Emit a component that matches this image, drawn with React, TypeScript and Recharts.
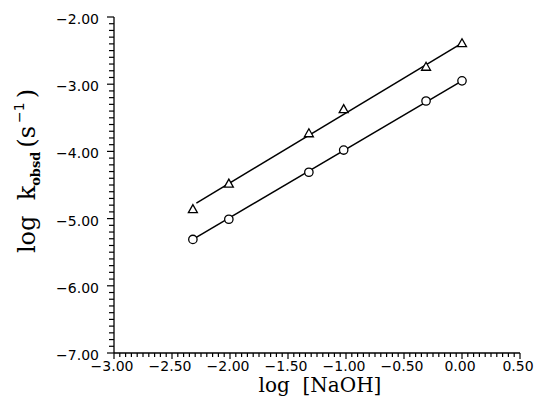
import { ScatterChart, Scatter, XAxis, YAxis } from 'recharts';

// log [NaOH] values shared by both series
const logNaOH = [-2.32, -2.01, -1.32, -1.02, -0.31, 0.0];
const triangleLogK = [-4.86, -4.48, -3.73, -3.37, -2.74, -2.39];
const circleLogK = [-5.31, -5.01, -4.31, -3.98, -3.25, -2.95];

// fitted straight lines (end points)
const triangleFitX = [-2.29, 0.0];
const triangleFitY = [-4.77, -2.39];
const circleFitX = [-2.32, 0.0];
const circleFitY = [-5.31, -2.95];

const xMajorTicks = [-3, -2.5, -2, -1.5, -1, -0.5, 0, 0.5];
const yMajorTicks = [-7, -6, -5, -4, -3, -2];

const xTicks: number[] = [];
for (let i = 0; i <= 70; i++) xTicks.push(+(-3 + i * 0.05).toFixed(2));
const yTicks: number[] = [];
for (let i = 0; i <= 50; i++) yTicks.push(+(-7 + i * 0.1).toFixed(1));

const toPoints = (xs: number[], ys: number[]) => xs.map((x, i) => ({ x, y: ys[i] }));

const trianglePts = toPoints(logNaOH, triangleLogK);
const circlePts = toPoints(logNaOH, circleLogK);
const triangleFit = toPoints(triangleFitX, triangleFitY);
const circleFit = toPoints(circleFitX, circleFitY);

const fmt = (v: number) => v.toFixed(2).replace('-', '\u2212');
const isMajor = (v: number, majors: number[]) => majors.some(m => Math.abs(m - v) < 1e-6);

const tickFont = { fontFamily: 'DejaVu Sans', fontSize: 14, fill: '#000' };

const XTick = (props: any) => {
  const { x, y, payload } = props;
  const major = isMajor(payload.value, xMajorTicks);
  return (
    <g>
      <line x1={x} y1={y} x2={x} y2={y + (major ? 6 : 4)} stroke="#000" strokeWidth={1.2} />
      {major && (
        <text x={x - 2} y={y + 18} textAnchor="middle" {...tickFont}>{fmt(payload.value)}</text>
      )}
    </g>
  );
};

const YTick = (props: any) => {
  const { x, y, payload } = props;
  const major = isMajor(payload.value, yMajorTicks);
  return (
    <g>
      <line x1={x} y1={y} x2={x - (major ? 7 : 5)} y2={y} stroke="#000" strokeWidth={1.2} />
      {major && (
        <text x={x - 15} y={y + 7} textAnchor="end" {...tickFont}>{fmt(payload.value)}</text>
      )}
    </g>
  );
};

const YLabel = () => {
  const cx = 35;
  const cy = 171;
  return (
    <text
      x={cx}
      y={cy}
      textAnchor="middle"
      transform={`rotate(-90 ${cx} ${cy})`}
      fontFamily="DejaVu Serif"
      fontSize={24}
      fill="#000"
      style={{ whiteSpace: 'pre' }}
    >
      <tspan>log  k</tspan>
      <tspan fontSize={13} fontWeight="bold" dy={5}>obsd</tspan>
      <tspan dx={4} dy={-5}>(s</tspan>
      <tspan fontSize={14} fontFamily="DejaVu Sans" dx={3} dy={-11}>{'\u22121'}</tspan>
      <tspan dx={4} dy={11}>)</tspan>
    </text>
  );
};

const XLabel = () => (
  <text x={320} y={392} textAnchor="middle" fontFamily="DejaVu Serif" fontSize={20} fill="#000" style={{ whiteSpace: 'pre' }}>
    log  [NaOH]
  </text>
);

const Triangle = (props: any) => {
  const { cx, cy } = props;
  return (
    <polygon
      points={`${cx},${cy - 4.5} ${cx - 4.5},${cy + 3.5} ${cx + 4.5},${cy + 3.5}`}
      fill="#fff"
      stroke="#000"
      strokeWidth={1.3}
    />
  );
};

const Circle = (props: any) => {
  const { cx, cy } = props;
  return <circle cx={cx} cy={cy} r={4.2} fill="#fff" stroke="#000" strokeWidth={1.3} />;
};

const NoDot = () => <g />;

export default function App() {
  return (
    <div style={{ position: 'absolute', left: 0, top: 0, background: '#fff' }}>
      <ScatterChart width={535} height={397} margin={{ top: 17, right: 15, bottom: 0, left: 0 }}>
        <XAxis
          type="number"
          dataKey="x"
          domain={[-3, 0.5]}
          ticks={xTicks}
          interval={0}
          allowDataOverflow
          height={44}
          tickSize={0}
          tickMargin={0}
          tickLine={false}
          axisLine={{ stroke: '#000', strokeWidth: 1.3 }}
          tick={<XTick />}
          label={<XLabel />}
        />
        <YAxis
          type="number"
          dataKey="y"
          domain={[-7, -2]}
          ticks={yTicks}
          interval={0}
          allowDataOverflow
          width={114}
          tickSize={0}
          tickMargin={0}
          tickLine={false}
          axisLine={{ stroke: '#000', strokeWidth: 1.3 }}
          tick={<YTick />}
          label={<YLabel />}
        />
        <Scatter data={triangleFit} line={{ stroke: '#000', strokeWidth: 1.5 }} shape={<NoDot />} isAnimationActive={false} />
        <Scatter data={circleFit} line={{ stroke: '#000', strokeWidth: 1.5 }} shape={<NoDot />} isAnimationActive={false} />
        <Scatter data={trianglePts} shape={<Triangle />} isAnimationActive={false} />
        <Scatter data={circlePts} shape={<Circle />} isAnimationActive={false} />
      </ScatterChart>
    </div>
  );
}
